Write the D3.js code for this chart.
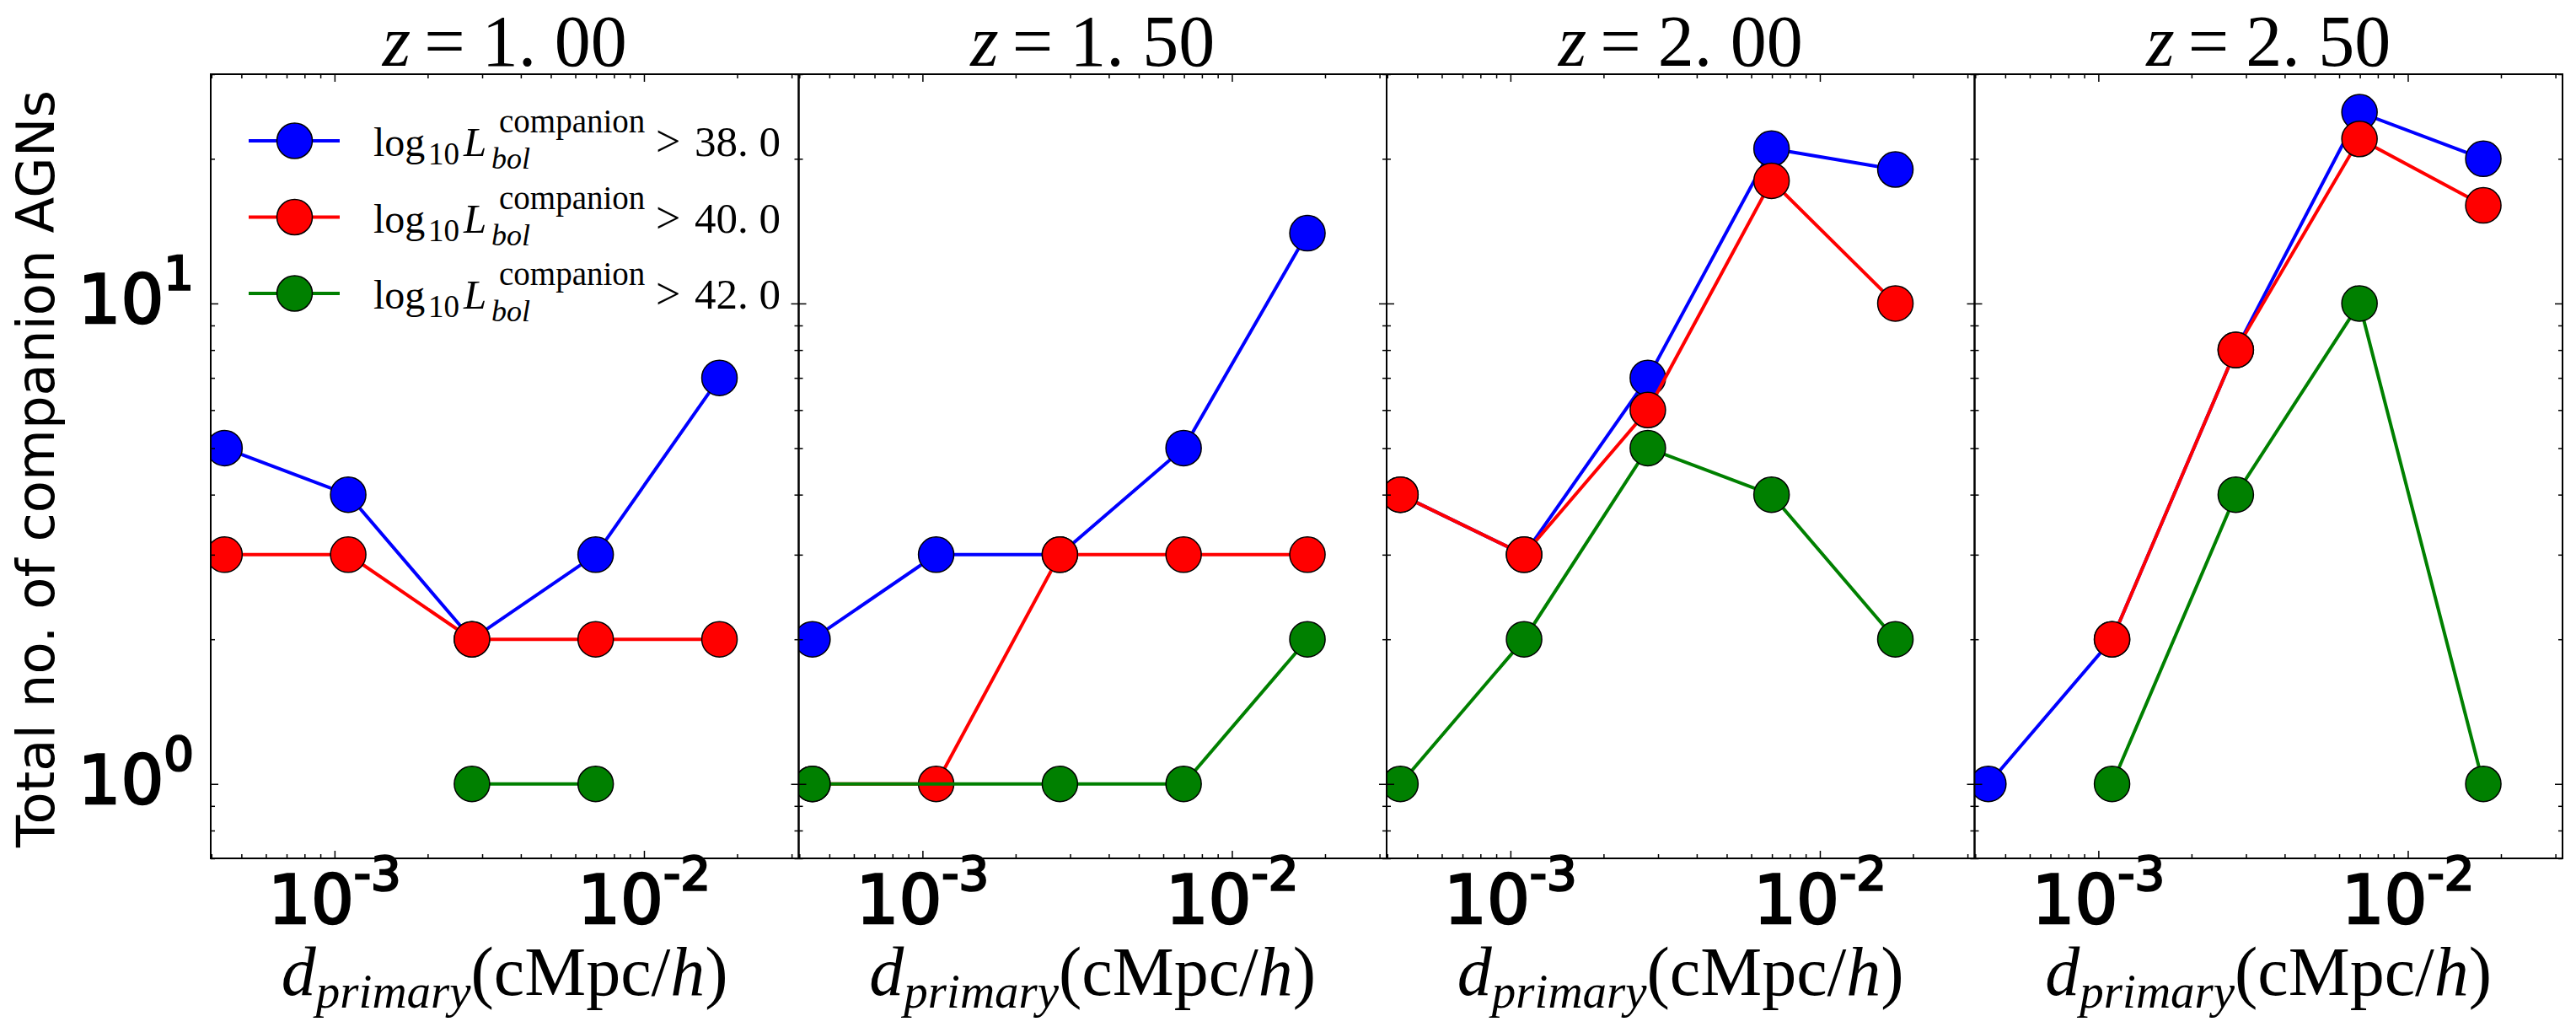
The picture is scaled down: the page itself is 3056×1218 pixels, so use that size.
<!DOCTYPE html>
<html>
<head>
<meta charset="utf-8">
<script src="https://cdnjs.cloudflare.com/ajax/libs/d3/7.8.5/d3.min.js"></script>
<style>
  body { margin: 0; background: white; }
</style>
</head>
<body>
<div id="chart"></div>
<script>
// separation from the primary AGN (cMpc/h), one value per bin
const distances = [4.41e-4, 1.107e-3, 2.78e-3, 6.98e-3, 1.754e-2];
const redshifts = ["1. 00", "1. 50", "2. 00", "2. 50"];
const thresholds = ["38. 0", "40. 0", "42. 0"];
const seriesColors = ["#0000ff", "#ff0000", "#008000"];

// counts per threshold (38, 40, 42); null = no companion in that bin
const countsZ100 = [[5, 4, 2, 3, 7], [3, 3, 2, 2, 2], [null, null, 1, 1, null]];
const countsZ150 = [[2, 3, 3, 5, 14], [1, 1, 3, 3, 3], [1, null, 1, 1, 2]];
const countsZ200 = [[4, 3, 7, 21, 19], [4, 3, 6, 18, 10], [1, 2, 5, 4, 2]];
const countsZ250 = [[1, 2, 8, 25, 20], [null, 2, 8, 22, 16], [null, 1, 4, 10, 1]];
const panels = [countsZ100, countsZ150, countsZ200, countsZ250];

const xDomain = [3.98e-4, 3.162e-2];
const yDomain = [0.7, 30];
const xMajor = [1e-3, 1e-2];
const xMajorLabels = [["10", "-3"], ["10", "-2"]];
const yMajor = [1, 10];
const yMajorLabels = [["10", "0"], ["10", "1"]];

const width = 3056;
const height = 1218;
const marginLeft = 250;
const marginTop = 88;
const panelWidth = 697.5;
const panelHeight = 930;
const serif = "'Liberation Serif', 'DejaVu Serif', serif";
const sans = "'DejaVu Sans', sans-serif";

const svg = d3.select("#chart")
              .append("svg")
              .attr("width", width)
              .attr("height", height)
              .style("background", "white")

const x = d3.scaleLog().domain(xDomain).range([0, panelWidth]);
const y = d3.scaleLog().domain(yDomain).range([panelHeight, 0]);

const isPow10 = d => Math.abs(Math.log10(d) - Math.round(Math.log10(d))) < 1e-9;
const xMinor = x.ticks().filter(d => !isPow10(d));
const yMinor = y.ticks().filter(d => !isPow10(d));

const line = d3.line()
               .x(d => x(d.d))
               .y(d => y(d.n))

function tickAxis(g, axis, values, size) {
  g.call(axis.tickValues(values).tickSize(-size).tickFormat(""))
  g.select(".domain").remove()
  g.selectAll("line").attr("stroke", "black").attr("stroke-width", 1.5)
}

panels.forEach((counts, p) => {
  const panel = svg.append("g")
                   .attr("transform", `translate(${marginLeft + p * panelWidth},${marginTop})`)

  panel.append("clipPath")
       .attr("id", `clip${p}`)
       .append("rect")
       .attr("width", panelWidth)
       .attr("height", panelHeight)

  const plot = panel.append("g").attr("clip-path", `url(#clip${p})`)

  counts.forEach((series, s) => {
    const pts = series.map((n, i) => ({ d: distances[i], n: n })).filter(d => d.n != null)
    plot.append("path")
        .datum(pts)
        .attr("d", line)
        .attr("fill", "none")
        .attr("stroke", seriesColors[s])
        .attr("stroke-width", 4)
    plot.selectAll(null)
        .data(pts)
        .enter()
        .append("circle")
        .attr("cx", d => x(d.d))
        .attr("cy", d => y(d.n))
        .attr("r", 21)
        .attr("fill", seriesColors[s])
        .attr("stroke", "black")
        .attr("stroke-width", 1.5)
  })

  // frame and inward ticks on all four sides
  panel.append("rect")
       .attr("width", panelWidth)
       .attr("height", panelHeight)
       .attr("fill", "none")
       .attr("stroke", "black")
       .attr("stroke-width", 2)

  const bottom = panel.append("g").attr("transform", `translate(0,${panelHeight})`)
  tickAxis(bottom.append("g"), d3.axisBottom(x), xMajor, 9)
  tickAxis(bottom.append("g"), d3.axisBottom(x), xMinor, 5)
  tickAxis(panel.append("g"), d3.axisTop(x), xMajor, 9)
  tickAxis(panel.append("g"), d3.axisTop(x), xMinor, 5)
  tickAxis(panel.append("g"), d3.axisLeft(y), yMajor, 9)
  tickAxis(panel.append("g"), d3.axisLeft(y), yMinor, 5)
  const right = panel.append("g").attr("transform", `translate(${panelWidth},0)`)
  tickAxis(right.append("g"), d3.axisRight(y), yMajor, 9)
  tickAxis(right.append("g"), d3.axisRight(y), yMinor, 5)

  // x tick labels
  xMajor.forEach((v, i) => {
    const t = panel.append("text")
                   .attr("x", x(v))
                   .attr("y", panelHeight + 77)
                   .attr("text-anchor", "middle")
                   .attr("font-family", sans)
                   .attr("font-size", 80)
                   .attr("stroke", "black")
                   .attr("stroke-width", 2.5)
    t.append("tspan").text(xMajorLabels[i][0])
    t.append("tspan").attr("dy", -40).attr("font-size", 56).text(xMajorLabels[i][1])
  })

  // title
  const title = panel.append("text")
                     .attr("x", panelWidth / 2)
                     .attr("y", 78 - marginTop)
                     .attr("text-anchor", "middle")
                     .attr("font-family", serif)
                     .attr("font-size", 86)
  title.append("tspan").attr("font-style", "italic").text("z")
  title.append("tspan").attr("dx", 16).text("=")
  title.append("tspan").attr("dx", 20).text(redshifts[p])

  // x label
  const xl = panel.append("text")
                  .attr("x", panelWidth / 2)
                  .attr("y", 1180 - marginTop)
                  .attr("text-anchor", "middle")
                  .attr("font-family", serif)
                  .attr("font-size", 82)
  xl.append("tspan").attr("font-style", "italic").text("d")
  xl.append("tspan").attr("font-style", "italic").attr("font-size", 57).attr("dy", 15).text("primary")
  xl.append("tspan").attr("dy", -15).text("(cMpc/")
  xl.append("tspan").attr("font-style", "italic").text("h")
  xl.append("tspan").text(")")

  if (p === 0) {
    yMajor.forEach((v, i) => {
      const t = panel.append("text")
                     .attr("x", -20)
                     .attr("y", y(v) + 23)
                     .attr("text-anchor", "end")
                     .attr("font-family", sans)
                     .attr("font-size", 80)
                     .attr("stroke", "black")
                     .attr("stroke-width", 2.5)
      t.append("tspan").text(yMajorLabels[i][0])
      t.append("tspan").attr("dy", -40).attr("font-size", 56).text(yMajorLabels[i][1])
    })
  }
})

svg.append("text")
   .attr("transform", "translate(64,556) rotate(-90)")
   .attr("text-anchor", "middle")
   .attr("font-family", sans)
   .attr("font-size", 62.5)
   .text("Total no. of companion AGNs")

// legend (upper left of first panel, no frame)
function piece(g, px, py, txt, size, italic) {
  g.append("text")
   .attr("x", px)
   .attr("y", py)
   .attr("font-family", serif)
   .attr("font-size", size)
   .attr("font-style", italic ? "italic" : "normal")
   .text(txt)
}

const legend = svg.append("g")
thresholds.forEach((th, i) => {
  const rowY = 167 + i * 90.5;
  legend.append("line")
        .attr("x1", 295).attr("x2", 403)
        .attr("y1", rowY).attr("y2", rowY)
        .attr("stroke", seriesColors[i])
        .attr("stroke-width", 4)
  legend.append("circle")
        .attr("cx", 349.5).attr("cy", rowY).attr("r", 21)
        .attr("fill", seriesColors[i])
        .attr("stroke", "black")
        .attr("stroke-width", 1.5)

  const base = rowY + 18;
  piece(legend, 443, base, "log", 48, false);
  piece(legend, 508, base + 10, "10", 37, false);
  piece(legend, 550, base, "L", 49, true);
  piece(legend, 592, base - 28, "companion", 39, false);
  piece(legend, 583, base + 15, "bol", 36, true);
  piece(legend, 778, base, ">", 52, false);
  piece(legend, 824, base, th, 51, false);
})
</script>
</body>
</html>
